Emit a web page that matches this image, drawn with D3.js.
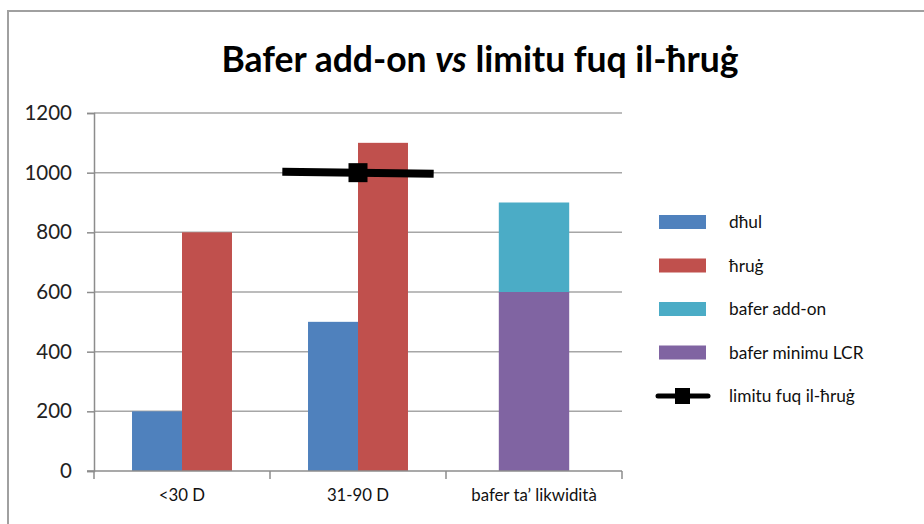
<!DOCTYPE html>
<html>
<head>
<meta charset="utf-8">
<script src="https://cdn.jsdelivr.net/npm/d3@7"></script>
<style>
  html, body { margin: 0; padding: 0; background: #fff; }
  svg { display: block; font-family: Lato, "Open Sans", sans-serif; }
</style>
</head>
<body>
<div id="chart"></div>
<script>
const width = 924
const height = 524

/* data */
const categories = ["<30 D", "31-90 D", "bafer ta’ likwidità"]
const inflows = [200, 500, null]        // dħul
const outflows = [800, 1100, null]      // ħruġ
const minLcr = [null, null, 600]        // bafer minimu LCR
const addOn = [null, null, 300]         // bafer add-on
const yTicks = [0, 200, 400, 600, 800, 1000, 1200]
// outflow limit, drawn across the 31-90 D group (offset as share of the band)
const limitCategory = "31-90 D"
const limitPoints = [[-0.43, 1003], [0, 1000], [0.43, 996]]

const legendItems = [
  { name: "dħul", color: "#4F81BD", type: "bar" },
  { name: "ħruġ", color: "#C0504D", type: "bar" },
  { name: "bafer add-on", color: "#4BACC6", type: "bar" },
  { name: "bafer minimu LCR", color: "#8064A2", type: "bar" },
  { name: "limitu fuq il-ħruġ", color: "#000", type: "line" }
]

const plot = { left: 94, right: 622, top: 113, bottom: 471 }
const gridColor = "#A6A6A6"
const axisColor = "#8C8C8C"

const svg = d3.select("#chart").append("svg")
  .attr("width", width)
  .attr("height", height)

/* outer chart border */
svg.append("path")
  .attr("d", `M8,${height} V11 H${width}`)
  .attr("fill", "none")
  .attr("stroke", "#A0A0A0")
  .attr("stroke-width", 2)

/* title */
const title = svg.append("text")
  .attr("x", 480)
  .attr("y", 72)
  .attr("text-anchor", "middle")
  .attr("font-size", 35.5)
  .attr("font-weight", "bold")
  .attr("fill", "#000")
title.append("tspan").text("Bafer add-on ")
title.append("tspan").attr("font-style", "italic").text("vs")
title.append("tspan").text(" limitu fuq il-ħruġ")

/* scales */
const x = d3.scaleBand()
  .domain(categories)
  .range([plot.left, plot.right])
  .padding(0)

const y = d3.scaleLinear()
  .domain([0, 1200])
  .range([plot.bottom, plot.top])

const clusterWidth = x.bandwidth() * 0.568
const inner = d3.scaleBand()
  .domain(["in", "out"])
  .range([0, clusterWidth])
const stackWidth = x.bandwidth() * 0.4

/* gridlines */
svg.append("g")
  .selectAll("line")
  .data(yTicks.filter(d => d > 0))
  .join("line")
  .attr("x1", plot.left)
  .attr("x2", plot.right)
  .attr("y1", d => y(d))
  .attr("y2", d => y(d))
  .attr("stroke", gridColor)
  .attr("stroke-width", 1.5)

/* y axis */
const yAxis = svg.append("g")
  .attr("transform", `translate(${plot.left},0)`)
  .call(d3.axisLeft(y).tickValues(yTicks).tickFormat(d3.format("d")).tickSize(7).tickPadding(15))
yAxis.select(".domain").attr("stroke", axisColor).attr("stroke-width", 1.5)
yAxis.selectAll(".tick line").attr("stroke", axisColor).attr("stroke-width", 1.5)
yAxis.selectAll(".tick text")
  .attr("font-family", "Lato, sans-serif")
  .attr("font-size", 20.5)
  .attr("fill", "#222")

/* bars: clustered */
const clustered = categories.map((c, i) => ({ c, inflow: inflows[i], outflow: outflows[i] }))
  .filter(d => d.inflow != null)

const barG = svg.append("g")
barG.selectAll("rect.in")
  .data(clustered)
  .join("rect")
  .attr("class", "in")
  .attr("x", d => x(d.c) + (x.bandwidth() - clusterWidth) / 2 + inner("in"))
  .attr("width", inner.bandwidth())
  .attr("y", d => y(d.inflow))
  .attr("height", d => y(0) - y(d.inflow))
  .attr("fill", "#4F81BD")

barG.selectAll("rect.out")
  .data(clustered)
  .join("rect")
  .attr("class", "out")
  .attr("x", d => x(d.c) + (x.bandwidth() - clusterWidth) / 2 + inner("out"))
  .attr("width", inner.bandwidth())
  .attr("y", d => y(d.outflow))
  .attr("height", d => y(0) - y(d.outflow))
  .attr("fill", "#C0504D")

/* bars: stacked buffer */
const stackedRows = categories.map((c, i) => ({ c, min: minLcr[i] || 0, add: addOn[i] || 0 }))
  .filter(d => d.min || d.add)
const series = d3.stack().keys(["min", "add"])(stackedRows)
const stackColors = { min: "#8064A2", add: "#4BACC6" }

barG.selectAll("g.stack")
  .data(series)
  .join("g")
  .attr("class", "stack")
  .attr("fill", s => stackColors[s.key])
  .selectAll("rect")
  .data(s => s)
  .join("rect")
  .attr("x", d => x(d.data.c) + (x.bandwidth() - stackWidth) / 2)
  .attr("width", stackWidth)
  .attr("y", d => y(d[1]))
  .attr("height", d => y(d[0]) - y(d[1]))

/* x axis */
const xAxis = svg.append("g")
  .attr("transform", `translate(0,${plot.bottom})`)
xAxis.append("line")
  .attr("x1", plot.left - 7)
  .attr("x2", plot.right)
  .attr("stroke", axisColor)
  .attr("stroke-width", 1.5)
xAxis.selectAll("line.tick")
  .data(categories.map(c => x(c)).concat([plot.right]))
  .join("line")
  .attr("class", "tick")
  .attr("x1", d => d)
  .attr("x2", d => d)
  .attr("y1", 0)
  .attr("y2", 8)
  .attr("stroke", axisColor)
  .attr("stroke-width", 1.5)
xAxis.selectAll("text")
  .data(categories)
  .join("text")
  .attr("x", d => x(d) + x.bandwidth() / 2)
  .attr("y", 30)
  .attr("text-anchor", "middle")
  .attr("font-size", 16.8)
  .attr("fill", "#111")
  .text(d => d)

/* limit line */
const lineData = limitPoints.map(([off, v]) => [x(limitCategory) + x.bandwidth() / 2 + off * x.bandwidth(), y(v)])
svg.append("path")
  .datum(lineData)
  .attr("d", d3.line())
  .attr("fill", "none")
  .attr("stroke", "#000")
  .attr("stroke-width", 8)
svg.append("rect")
  .attr("x", lineData[1][0] - 9.5)
  .attr("y", lineData[1][1] - 9.5)
  .attr("width", 19)
  .attr("height", 19)
  .attr("fill", "#000")

/* legend */
const legend = svg.append("g")
  .attr("transform", "translate(659,222)")
const rows = legend.selectAll("g")
  .data(legendItems)
  .join("g")
  .attr("transform", (d, i) => `translate(0,${i * 43.5})`)
rows.filter(d => d.type === "bar")
  .append("rect")
  .attr("x", 0)
  .attr("y", -7)
  .attr("width", 47)
  .attr("height", 14)
  .attr("fill", d => d.color)
const lineRows = rows.filter(d => d.type === "line")
lineRows.append("line")
  .attr("x1", -1)
  .attr("x2", 49)
  .attr("stroke", d => d.color)
  .attr("stroke-width", 5)
  .attr("stroke-linecap", "round")
lineRows.append("rect")
  .attr("x", 16)
  .attr("y", -8)
  .attr("width", 15)
  .attr("height", 16)
  .attr("fill", d => d.color)
rows.append("text")
  .attr("x", 70)
  .attr("y", 6)
  .attr("font-size", 17.3)
  .attr("fill", "#111")
  .text(d => d.name)
</script>
</body>
</html>
